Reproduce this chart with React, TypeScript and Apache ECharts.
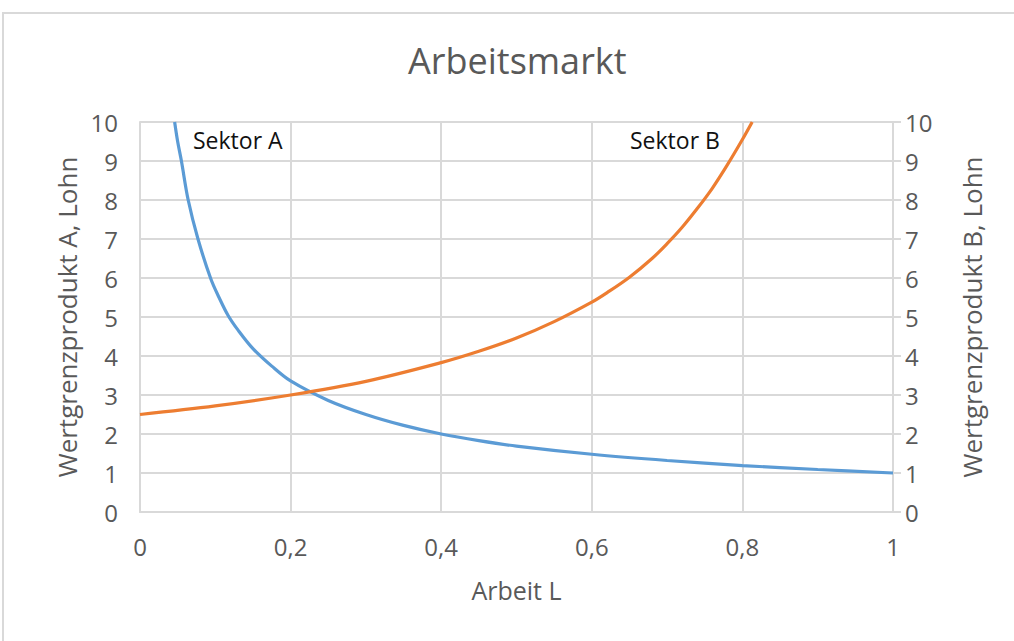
import React, { useEffect, useRef } from "react";
import * as echarts from "echarts";

const titleText = "Arbeitsmarkt";
const xAxisName = "Arbeit L";
const yLeftName = "Wertgrenzprodukt A, Lohn";
const yRightName = "Wertgrenzprodukt B, Lohn";
const labelA = "Sektor A";
const labelB = "Sektor B";

// Sektor A (blue) : [Arbeit L, Wertgrenzprodukt A]
const sektorA: [number, number][] = [
  [0.046, 10], [0.05, 9.5], [0.055, 9], [0.064, 8], [0.077, 7], [0.094, 5.98],
  [0.105, 5.5], [0.117, 5.04], [0.13, 4.67], [0.15, 4.19], [0.175, 3.74], [0.2, 3.36],
  [0.25, 2.86], [0.3, 2.5], [0.35, 2.22], [0.4, 2.0], [0.45, 1.83], [0.5, 1.69],
  [0.6, 1.48], [0.7, 1.32], [0.8, 1.19], [0.9, 1.09], [1.0, 1.0],
];
// Sektor B (orange) : [Arbeit L, Wertgrenzprodukt B]
const sektorB: [number, number][] = [
  [0, 2.5], [0.1, 2.72], [0.2, 3.0], [0.3, 3.35], [0.4, 3.83], [0.45, 4.12], [0.5, 4.46],
  [0.55, 4.88], [0.6, 5.38], [0.62, 5.62], [0.65, 6.02], [0.68, 6.5], [0.7, 6.88],
  [0.72, 7.3], [0.74, 7.78], [0.76, 8.3], [0.78, 8.9], [0.8, 9.55], [0.813, 10],
];

const FONT = "'Open Sans', sans-serif";
const GRAY = "#595959";
const GRID = "#d9d9d9";

export default function App() {
  const ref = useRef<HTMLDivElement>(null);
  useEffect(() => {
    document.body.style.margin = "0";
    const chart = echarts.init(ref.current!, null, { renderer: "svg" });
    const fmt = (v: number) => String(Math.round(v * 10) / 10).replace(".", ",");
    chart.setOption({
      animation: false,
      backgroundColor: "#fff",
      textStyle: { fontFamily: FONT },
      title: {
        text: titleText,
        left: 403,
        top: 37,
        textStyle: { fontFamily: FONT, fontSize: 36, fontWeight: "normal", color: GRAY },
      },
      graphic: [
        {
          type: "rect",
          shape: { x: 3, y: 13, width: 1020, height: 640 },
          style: { fill: "none", stroke: GRID, lineWidth: 2 },
          silent: true,
        },
        {
          type: "text",
          left: 193,
          top: 128,
          style: { text: labelA, fontFamily: FONT, fontSize: 23, fill: "#111" },
        },
        {
          type: "text",
          left: 630,
          top: 128,
          style: { text: labelB, fontFamily: FONT, fontSize: 23, fill: "#111" },
        },
      ],
      grid: { left: 140, right: 121, top: 122, bottom: 129 },
      xAxis: {
        type: "value",
        min: 0,
        max: 1,
        interval: 0.2,
        name: xAxisName,
        nameLocation: "middle",
        nameGap: 65,
        nameTextStyle: { fontFamily: FONT, fontSize: 25, color: GRAY },
        axisLine: { show: true, lineStyle: { color: GRID, width: 2 } },
        axisTick: { show: false },
        axisLabel: { fontFamily: FONT, fontSize: 24, color: GRAY, margin: 22, formatter: fmt },
        splitLine: { show: true, lineStyle: { color: GRID, width: 2 } },
      },
      yAxis: [
        {
          type: "value",
          position: "left",
          min: 0,
          max: 10,
          interval: 1,
          name: yLeftName,
          nameLocation: "middle",
          nameGap: 60,
          nameRotate: 90,
          nameTextStyle: { fontFamily: FONT, fontSize: 26, color: GRAY },
          axisLine: { show: true, lineStyle: { color: GRID, width: 2 } },
          axisTick: { show: false },
          axisLabel: { fontFamily: FONT, fontSize: 24, color: GRAY, margin: 22 },
          splitLine: { show: true, lineStyle: { color: GRID, width: 2 } },
        },
        {
          type: "value",
          position: "right",
          min: 0,
          max: 10,
          interval: 1,
          name: yRightName,
          nameLocation: "middle",
          nameGap: 66,
          nameRotate: 90,
          nameTextStyle: { fontFamily: FONT, fontSize: 26, color: GRAY },
          axisLine: { show: true, lineStyle: { color: GRID, width: 2 } },
          axisTick: { show: true, length: 8, lineStyle: { color: GRID, width: 2 } },
          axisLabel: { fontFamily: FONT, fontSize: 24, color: GRAY, margin: 12 },
          splitLine: { show: false },
        },
      ],
      series: [
        {
          name: labelA,
          type: "line",
          data: sektorA,
          smooth: 0.35,
          showSymbol: false,
          yAxisIndex: 0,
          lineStyle: { color: "#5B9BD5", width: 3.2 },
          itemStyle: { color: "#5B9BD5" },
        },
        {
          name: labelB,
          type: "line",
          data: sektorB,
          smooth: 0.35,
          showSymbol: false,
          yAxisIndex: 1,
          lineStyle: { color: "#ED7D31", width: 3.2 },
          itemStyle: { color: "#ED7D31" },
        },
      ],
    });
    return () => chart.dispose();
  }, []);
  return (
    <div
      ref={ref}
      style={{ position: "absolute", left: 0, top: 0, width: 1014, height: 641 }}
    />
  );
}
